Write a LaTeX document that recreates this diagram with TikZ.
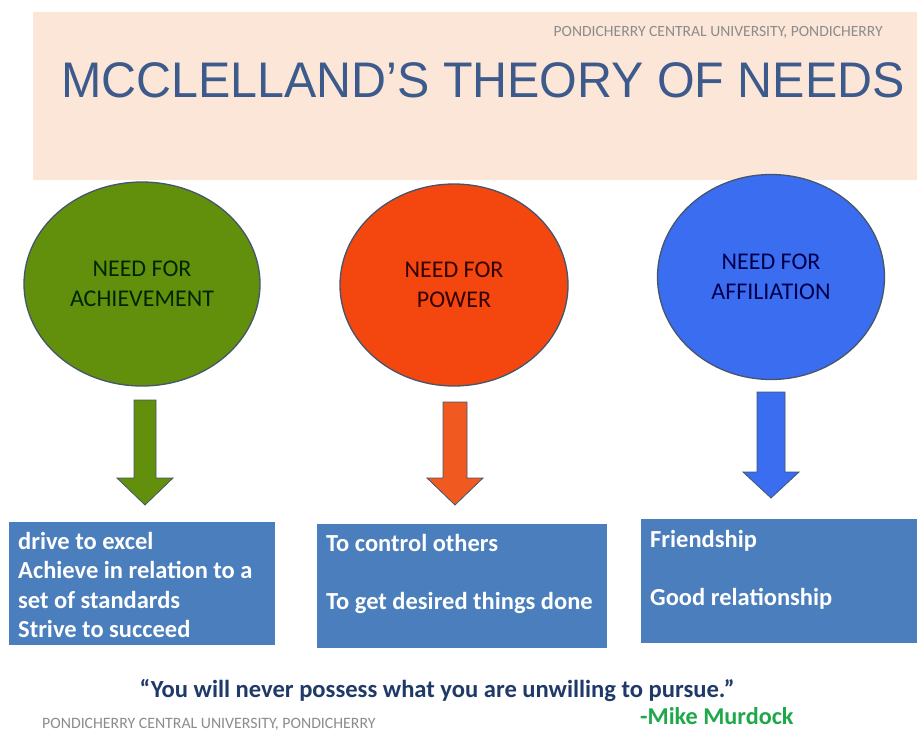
\documentclass[tikz,border=0pt]{standalone}
\usepackage{fontspec}
\setmainfont{Carlito}
\newfontfamily\titlefont{Liberation Sans}
\usetikzlibrary{shapes.geometric}

\definecolor{peach}{HTML}{FCE6D8}
\definecolor{titleblue}{HTML}{3C5B8C}
\definecolor{footgray}{HTML}{8C8C8C}
\definecolor{achgreen}{HTML}{62900C}
\definecolor{powred}{HTML}{F4470F}
\definecolor{powarrow}{HTML}{F05A20}
\definecolor{affblue}{HTML}{3B6DF0}
\definecolor{boxblue}{HTML}{4A7EBC}
\definecolor{rimgray}{HTML}{44556C}
\definecolor{quotenavy}{HTML}{1F3A68}
\definecolor{authorgreen}{HTML}{1FA84A}

\tikzset{
  needcircle/.style={ellipse, draw=rimgray, line width=1.3pt, align=center,
    font=\fontsize{24}{29.5}\selectfont, inner sep=0pt},
  itembox/.style={rectangle, fill=boxblue, draw=none, inner sep=0pt},
  itemline/.style={anchor=base west, inner sep=0pt, text=white,
    font=\fontsize{24.5}{29}\selectfont\bfseries},
  blockarrow/.style={draw=rimgray, line width=0.8pt, line join=miter},
  smallcaption/.style={inner sep=0pt, text=footgray}
}

% block arrow: centre x, shaft top, head top, tip, half shaft, half head, colour
\newcommand{\downblock}[7]{%
  \draw[blockarrow, fill=#7]
    (#1-#5,#2) -- (#1+#5,#2) -- (#1+#5,#3) -- (#1+#6,#3) -- (#1,#4)
    -- (#1-#6,#3) -- (#1-#5,#3) -- cycle;}

\begin{document}
\begin{tikzpicture}[x=1pt,y=-1pt]
\useasboundingbox (0,0) rectangle (917,731);
\fill[white] (0,0) rectangle (917,731);

% title band
\fill[peach] (33,12) rectangle (917,180);
\node[smallcaption, anchor=base east, font=\fontsize{15.6}{18}\selectfont] (uni) at (883,36)
  {PONDICHERRY CENTRAL UNIVERSITY, PONDICHERRY};
\node[inner sep=0pt, anchor=base west, text=titleblue, xscale=0.968,
  font=\titlefont\fontsize{50}{60}\selectfont] (title) at (61,97)
  {MCCLELLAND’S THEORY OF NEEDS};

% the three needs
\node[needcircle, fill=achgreen, text=black!85!green, minimum width=236pt, minimum height=204pt]
  (ach) at (142,284) {NEED FOR\\ACHIEVEMENT};
\node[needcircle, fill=powred, text=black!80!red, minimum width=228pt, minimum height=202pt]
  (pow) at (454,285) {NEED FOR\\POWER};
\node[needcircle, fill=affblue, text=black!70!blue, minimum width=227pt, minimum height=205pt]
  (aff) at (771,277) {NEED FOR\\AFFILIATION};

% arrows down to the descriptions
\downblock{145}{400}{478}{505}{11}{28}{achgreen}
\downblock{455}{402}{478}{505}{12}{28}{powarrow}
\downblock{771}{392}{472}{498}{14}{28}{affblue}

% description boxes
\node[itembox, minimum width=266pt, minimum height=123pt, anchor=north west]
  (achbox) at (9,522) {};
\node[itembox, minimum width=290pt, minimum height=124pt, anchor=north west]
  (powbox) at (317,524) {};
\node[itembox, minimum width=276pt, minimum height=124pt, anchor=north west]
  (affbox) at (641,519) {};

\foreach \t [count=\i from 0] in {drive to excel, Achieve in relation to a,
    set of standards, Strive to succeed}
  \node[itemline] (achline\i) at ([shift={(9pt,-27.5pt-\i*29.3pt)}]achbox.north west) {\t};
\node[itemline] (powline0) at ([shift={(9pt,-27.5pt)}]powbox.north west) {To control others};
\node[itemline] (powline1) at ([shift={(9pt,-85.5pt)}]powbox.north west) {To get desired things done};
\node[itemline] (affline0) at ([shift={(9pt,-28.5pt)}]affbox.north west) {Friendship};
\node[itemline] (affline1) at ([shift={(9pt,-86.5pt)}]affbox.north west) {Good relationship};

% quotation
\node[inner sep=0pt, anchor=base, text=quotenavy, font=\fontsize{24.6}{28}\selectfont\bfseries]
  (quote) at (437,697) {“You will never possess what you are unwilling to pursue.”};
\node[inner sep=0pt, anchor=base west, text=authorgreen, font=\fontsize{24.2}{28}\selectfont\bfseries]
  (author) at (640,724) {-Mike Murdock};
\node[smallcaption, anchor=base west, font=\fontsize{15.8}{18}\selectfont] (footer) at (42,728.5)
  {PONDICHERRY CENTRAL UNIVERSITY, PONDICHERRY};
\end{tikzpicture}
\end{document}
